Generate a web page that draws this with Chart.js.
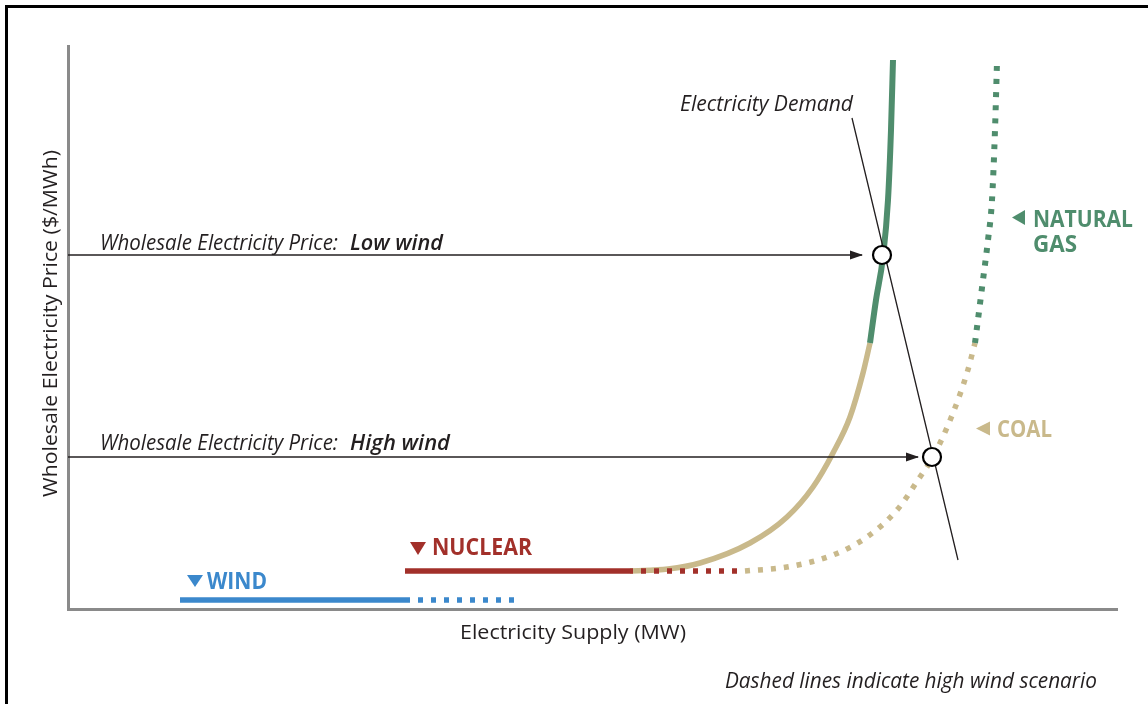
<!DOCTYPE html>
<html><head><meta charset="utf-8">
<script src="https://cdn.jsdelivr.net/npm/chart.js@4.4.0/dist/chart.umd.min.js"></script>
<style>html,body{margin:0;padding:0;background:#fff;} #wrap{width:1148px;height:704px;position:relative}</style>
</head><body><div id="wrap"><canvas id="c" width="1148" height="704"></canvas></div>
<script>
// Scale ranges (arbitrary units: supply in MW, price in $/MWh, conceptual)
const supplyRange = [0, 1049];
const priceRange = [0, 563];

// Series: [supply, price]
const windSolid = [[112,9],[337,9]];
const windDashed = [[337,9],[449,9]];
const nuclearSolid = [[337,38],[560,38]];
const nuclearDashed = [[560,38],[672,38]];
const coalSolid = [[562,38],[600,40],[632,46],[682,66],[719,92],[745,122],[765,156],[782,192],[795,236],[802,266]];
const coalDashed = [[677,38],[719,42],[765,54],[799,72],[829,99],[852,132],[865,152],[885,196],[899,236],[907,266]];
const gasSolid = [[802,266],[808,309],[815,352],[820,409],[823,479],[825,549]];
const gasDashed = [[907,266],[915,329],[920,369],[924,409],[927,479],[929,547]];
const demand = [[784,491],[890,49]];
const priceLow = [[0,354],[794,354]];
const priceHigh = [[0,152],[850,152]];
const equilibria = [[814,354],[864,152]];

// Text
const yTitle = 'Wholesale Electricity Price ($/MWh)';
const xTitle = 'Electricity Supply (MW)';
const priceLabel = 'Wholesale Electricity Price:';
const lowLabel = 'Low wind';
const highLabel = 'High wind';
const demandLabel = 'Electricity Demand';
const note = 'Dashed lines indicate high wind scenario';

const C = {wind:'#3b88cc', nuclear:'#a2302a', coal:'#c9b98b', gas:'#4f8d6d', ink:'#231f20', axis:'#8a8a8a'};

const toXY = a => a.map(([x,y]) => ({x,y}));
function lineDs(data, color, width, dash, order){
  return {data: toXY(data), borderColor: color, borderWidth: width, borderDash: dash||[],
    borderCapStyle:'butt', pointRadius:0, cubicInterpolationMode:'monotone', fill:false, order, clip:false};
}
const DOT = [5,8];

function fitText(ctx, txt, x, y, w, font, color, rot){
  ctx.save(); ctx.font = font; ctx.fillStyle = color; ctx.textBaseline='alphabetic'; ctx.textAlign='left';
  const m = ctx.measureText(txt).width;
  ctx.translate(x, y); if (rot) ctx.rotate(rot); ctx.scale(w/m, 1); ctx.fillText(txt, 0, 0); ctx.restore();
}
function tri(ctx, pts, color){
  ctx.save(); ctx.fillStyle=color; ctx.beginPath(); ctx.moveTo(pts[0][0],pts[0][1]);
  for (let i=1;i<pts.length;i++) ctx.lineTo(pts[i][0],pts[i][1]); ctx.closePath(); ctx.fill(); ctx.restore();
}

const F = '"Open Sans", "DejaVu Sans", sans-serif';
const deco = {
  id:'deco',
  beforeDraw(chart){
    const ctx = chart.ctx;
    ctx.save(); ctx.strokeStyle='#000'; ctx.lineWidth=3; ctx.beginPath();
    ctx.moveTo(6.5,704); ctx.lineTo(6.5,6.5); ctx.lineTo(1148,6.5); ctx.stroke(); ctx.restore();
  },
  afterDatasetsDraw(chart){
    const ctx = chart.ctx;
    [10, 11].forEach(i => {
      const pts = chart.getDatasetMeta(i).data; const p = pts[pts.length-1];
      tri(ctx, [[p.x+1,p.y],[p.x-12,p.y-4.5],[p.x-12,p.y+4.5]], C.ink);
    });
  },
  afterDraw(chart){
    const ctx = chart.ctx;
    fitText(ctx, yTitle, 57, 497, 347, '400 20px '+F, C.ink, -Math.PI/2);
    fitText(ctx, xTitle, 460, 639, 226, '400 20px '+F, C.ink);
    fitText(ctx, priceLabel, 100, 250, 238, 'italic 400 21px '+F, C.ink);
    fitText(ctx, lowLabel, 350, 250, 93, 'italic 600 21px '+F, C.ink);
    fitText(ctx, priceLabel, 100, 450, 238, 'italic 400 21px '+F, C.ink);
    fitText(ctx, highLabel, 350, 450, 100, 'italic 600 21px '+F, C.ink);
    fitText(ctx, demandLabel, 680, 111, 173, 'italic 400 21px '+F, C.ink);
    fitText(ctx, note, 725, 688, 372, 'italic 400 21px '+F, C.ink);
    tri(ctx, [[187,575],[203,575],[195,587]], C.wind);
    fitText(ctx, 'WIND', 207, 589, 60, '700 23px '+F, C.wind);
    tri(ctx, [[410,542],[426,542],[418,555]], C.nuclear);
    fitText(ctx, 'NUCLEAR', 432, 555, 100, '700 23px '+F, C.nuclear);
    tri(ctx, [[1012,217.5],[1025,210],[1025,225]], C.gas);
    fitText(ctx, 'NATURAL', 1033, 227, 100, '700 23px '+F, C.gas);
    fitText(ctx, 'GAS', 1033, 252, 44, '700 23px '+F, C.gas);
    tri(ctx, [[976,428.5],[990,421.5],[990,435.5]], C.coal);
    fitText(ctx, 'COAL', 997, 437, 55, '700 23px '+F, C.coal);
  }
};

new Chart(document.getElementById('c'), {
  type:'line',
  data:{datasets:[
    lineDs(windSolid, C.wind, 5.5, null, 5),            //0
    lineDs(windDashed, C.wind, 5.5, DOT, 5),            //1
    lineDs(nuclearSolid, C.nuclear, 5.5, null, 4),      //2
    lineDs(nuclearDashed, C.nuclear, 5.5, DOT, 3),      //3
    lineDs(coalSolid, C.coal, 5.5, null, 7),            //4
    lineDs(coalDashed, C.coal, 5.5, DOT, 9),            //5
    lineDs(gasSolid, C.gas, 6, null, 6),                //6
    lineDs(gasDashed, C.gas, 6, DOT, 8),                //7
    lineDs(demand, C.ink, 1.3, null, 1),                //8
    {data: toXY(equilibria), showLine:false, pointRadius:9, pointBorderWidth:2.2,
      pointBackgroundColor:'#fff', pointBorderColor:'#000', order:0, clip:false}, //9
    lineDs(priceLow, C.ink, 1.3, null, 2),              //10
    lineDs(priceHigh, C.ink, 1.3, null, 2)              //11
  ]},
  options:{
    responsive:false, animation:false, events:[],
    layout:{autoPadding:false, padding:{left:68, top:46, right:31, bottom:95}},
    plugins:{legend:{display:false}, tooltip:{enabled:false}},
    scales:{
      x:{type:'linear', min:supplyRange[0], max:supplyRange[1], grid:{display:false, drawTicks:false}, ticks:{display:false},
         border:{display:true, color:C.axis, width:3}},
      y:{type:'linear', min:priceRange[0], max:priceRange[1], grid:{display:false, drawTicks:false}, ticks:{display:false},
         border:{display:true, color:C.axis, width:3}}
    }
  },
  plugins:[deco]
});
</script></body></html>
